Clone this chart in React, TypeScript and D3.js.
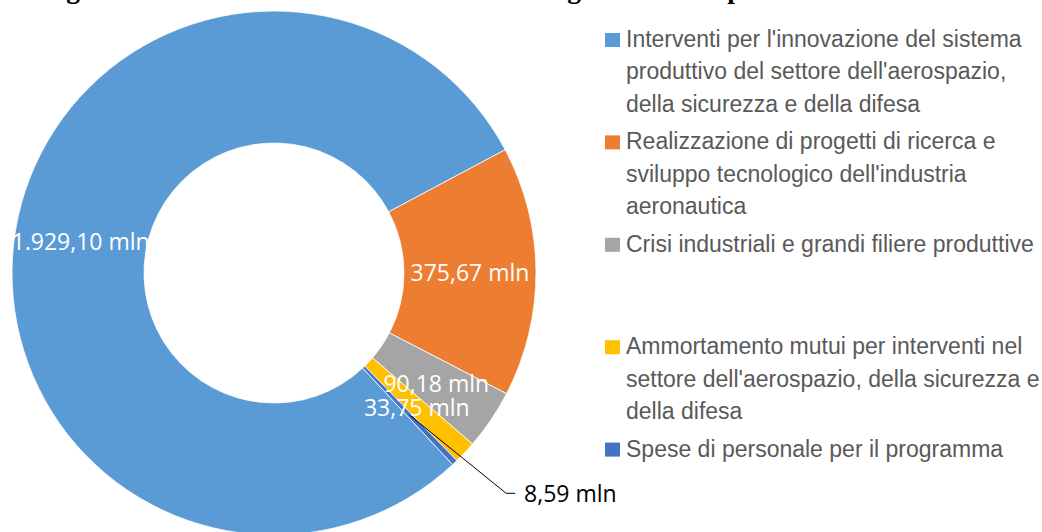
import React from "react";
import * as d3 from "d3";

// data
const categories = [
  "Interventi per l'innovazione del sistema produttivo del settore dell'aerospazio, della sicurezza e della difesa",
  "Realizzazione di progetti di ricerca e sviluppo tecnologico dell'industria aeronautica",
  "Crisi industriali e grandi filiere produttive",
  "Ammortamento mutui per interventi nel settore dell'aerospazio, della sicurezza e della difesa",
  "Spese di personale per il programma",
];
const legendLines = [
  ["Interventi per l'innovazione del sistema", "produttivo del settore dell'aerospazio,", "della sicurezza e della difesa"],
  ["Realizzazione di progetti di ricerca e", "sviluppo tecnologico dell'industria", "aeronautica"],
  ["Crisi industriali e grandi filiere produttive"],
  ["Ammortamento mutui per interventi nel", "settore dell'aerospazio, della sicurezza e", "della difesa"],
  ["Spese di personale per il programma"],
];
const values = [1929.1, 375.67, 90.18, 33.75, 8.59];
const valueLabels = ["1.929,10 mln", "375,67 mln", "90,18 mln", "33,75 mln", "8,59 mln"];
const colors = ["#5B9BD5", "#ED7D31", "#A5A5A5", "#FFC000", "#4472C4"];
const title = "Programma: Incentivi al sistema industriale e grandi filiere produttive";

const W = 1042;
const H = 532;
const cx = 274;
const cy = 273;
const outerR = 262;
const innerR = 130;
const firstSliceAngle = 137; // degrees, like Excel's "angle of first slice"

const App = () => {
  const rad = (d: number) => (d * Math.PI) / 180;
  const pie = d3
    .pie<number>()
    .sort(null)
    .value((d) => d)
    .startAngle(rad(firstSliceAngle))
    .endAngle(rad(firstSliceAngle) + 2 * Math.PI);
  const arcs = pie(values);

  const arc = d3.arc<d3.PieArcDatum<number>>().innerRadius(innerR).outerRadius(outerR);
  const labelArc = d3.arc<d3.PieArcDatum<number>>().innerRadius(196).outerRadius(196);

  // small slice gets an outside label with a leader line
  const outsideIdx = values.length - 1;
  const small = arcs[outsideIdx];
  const mid = (small.startAngle + small.endAngle) / 2 - 0.05;
  const elbowR = 320;
  const elbow: [number, number] = [Math.sin(mid) * elbowR, -Math.cos(mid) * elbowR];
  const start = labelArc.centroid(small);

  const rows = d3
    .scaleBand<number>()
    .domain(d3.range(categories.length))
    .range([24, 24 + 102.4 * categories.length]);
  const lineH = 32.3;

  return (
    <svg
      width={W}
      height={H}
      style={{ position: "absolute", left: 0, top: 0, background: "#fff" }}
    >
      <text
        x={24}
        y={-2.5}
        fontFamily="'Liberation Serif', 'Times New Roman', serif"
        fontWeight="bold"
        fontSize={27.5}
        fill="#000"
      >
        {title}
      </text>

      <g transform={`translate(${cx},${cy})`}>
        {arcs.map((a, i) => (
          <path key={i} d={arc(a) || ""} fill={colors[i]} stroke="#fff" strokeWidth={0.8} />
        ))}
        {arcs.map((a, i) => {
          if (i === outsideIdx) return null;
          const [x, y] = labelArc.centroid(a);
          return (
            <text
              key={i}
              x={x}
              y={y}
              textAnchor="middle"
              dominantBaseline="central"
              fontFamily="'Open Sans', sans-serif"
              fontSize={23}
              fill="#fff"
            >
              {valueLabels[i]}
            </text>
          );
        })}
        <polyline
          points={`${start[0]},${start[1]} ${elbow[0]},${elbow[1]} ${elbow[0] + 9},${elbow[1]}`}
          fill="none"
          stroke="#000"
          strokeWidth={1}
        />
        <text
          x={elbow[0] + 18}
          y={elbow[1]}
          dominantBaseline="central"
          fontFamily="'Open Sans', sans-serif"
          fontSize={23}
          fill="#000"
        >
          {valueLabels[outsideIdx]}
        </text>
      </g>

      <g fontFamily="'Liberation Sans', Arial, sans-serif" fontSize={23} fill="#595959">
        {legendLines.map((lines, i) => {
          const base = (rows(i) as number) + 23;
          return (
            <g key={i}>
              <rect x={605} y={base - 14} width={15} height={14} fill={colors[i]} />
              {lines.map((l, j) => (
                <text key={j} x={626} y={base + j * lineH}>
                  {l}
                </text>
              ))}
            </g>
          );
        })}
      </g>
    </svg>
  );
};

export default App;
